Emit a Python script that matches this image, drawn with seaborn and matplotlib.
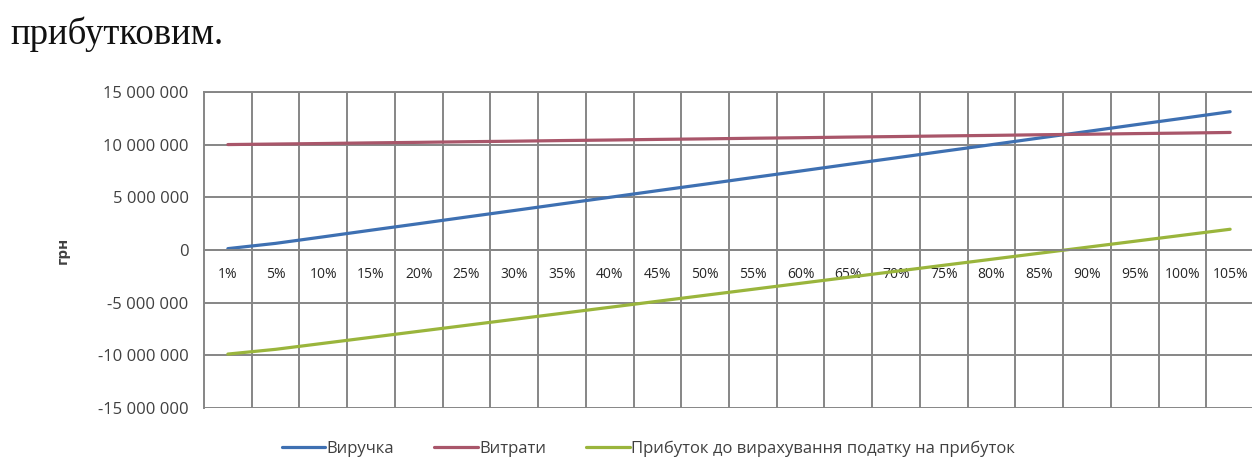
import matplotlib
matplotlib.use("Agg")
import matplotlib.pyplot as plt
import pandas as pd
import seaborn as sns
from matplotlib.ticker import FixedLocator, FuncFormatter

categories = ["1%", "5%", "10%", "15%", "20%", "25%", "30%", "35%", "40%", "45%", "50%",
              "55%", "60%", "65%", "70%", "75%", "80%", "85%", "90%", "95%", "100%", "105%"]

revenue = [130000, 630000, 1250000, 1880000, 2500000, 3130000, 3750000, 4380000, 5000000,
           5630000, 6250000, 6880000, 7500000, 8130000, 8750000, 9380000, 10000000,
           10630000, 11250000, 11880000, 12500000, 13130000]

costs = [10010000, 10060000, 10110000, 10170000, 10220000, 10280000, 10330000, 10390000,
         10440000, 10500000, 10550000, 10610000, 10660000, 10720000, 10770000, 10830000,
         10880000, 10940000, 10990000, 11050000, 11100000, 11160000]

profit = [-9880000, -9430000, -8860000, -8290000, -7720000, -7150000, -6580000, -6010000,
          -5440000, -4870000, -4300000, -3730000, -3160000, -2590000, -2020000, -1450000,
          -880000, -310000, 260000, 830000, 1400000, 1970000]

series_names = ["Виручка", "Витрати", "Прибуток до вирахування податку на прибуток"]
series_colors = ["#3E70B2", "#A9566A", "#9AB53C"]

y_ticks = [15000000, 10000000, 5000000, 0, -5000000, -10000000, -15000000]

rows = []
for name, values in zip(series_names, [revenue, costs, profit]):
    for i, v in enumerate(values):
        rows.append({"pos": i, "value": v, "series": name})
df = pd.DataFrame(rows)

sns.set_style("white")
plt.rcParams["font.family"] = ["Open Sans", "DejaVu Sans"]

fig = plt.figure(figsize=(12.52, 4.58), dpi=100)
# plot area runs off the right edge of the page, as in the scan
ax = fig.add_axes([204 / 1252, 50 / 458, 1050 / 1252, 316 / 458])

sns.lineplot(data=df, x="pos", y="value", hue="series", hue_order=series_names,
             palette=series_colors, linewidth=2.3, ax=ax, legend=False)

ax.set_xlim(-0.5, len(categories) - 0.5)
ax.set_ylim(-15000000, 15000000)

# category labels sit on the zero line, gridlines between categories
ax.xaxis.set_major_locator(FixedLocator(range(len(categories))))
ax.set_xticklabels(categories, fontsize=11.5, color="#404040")
ax.xaxis.set_minor_locator(FixedLocator([i + 0.5 for i in range(len(categories) - 1)]))
ax.spines["bottom"].set_position(("data", 0))
ax.tick_params(axis="x", which="both", length=0, pad=12)

ax.yaxis.set_major_locator(FixedLocator(y_ticks))
ax.yaxis.set_major_formatter(FuncFormatter(
    lambda v, _: ("-" if v < 0 else "") + f"{abs(int(v)):,}".replace(",", " ")))
ax.tick_params(axis="y", length=0, pad=11, labelsize=12, labelcolor="#404040")

ax.grid(True, which="major", axis="y", color="#868686", linewidth=1.4)
ax.grid(True, which="minor", axis="x", color="#868686", linewidth=1.4)
for side in ["left", "top", "bottom"]:
    ax.spines[side].set_color("#868686")
    ax.spines[side].set_linewidth(1.4)
ax.spines["right"].set_visible(False)
ax.set_axisbelow(True)

ax.set_xlabel("")
ax.set_ylabel("грн", fontsize=11, fontweight="bold", color="#404040", labelpad=20)

handles = [plt.Line2D([], [], color=c, linewidth=2.3) for c in series_colors]
fig.legend(handles, series_names, loc="center", bbox_to_anchor=(0.518, 0.02),
           ncol=3, frameon=False, fontsize=12, handlelength=2.6, handletextpad=0.1,
           columnspacing=2.4, labelcolor="#404040")

fig.text(0.008, 0.925, "прибутковим.", fontsize=26.5, family="Liberation Serif",
         color="#111111", va="center")

fig.savefig("out.png", dpi=100)
